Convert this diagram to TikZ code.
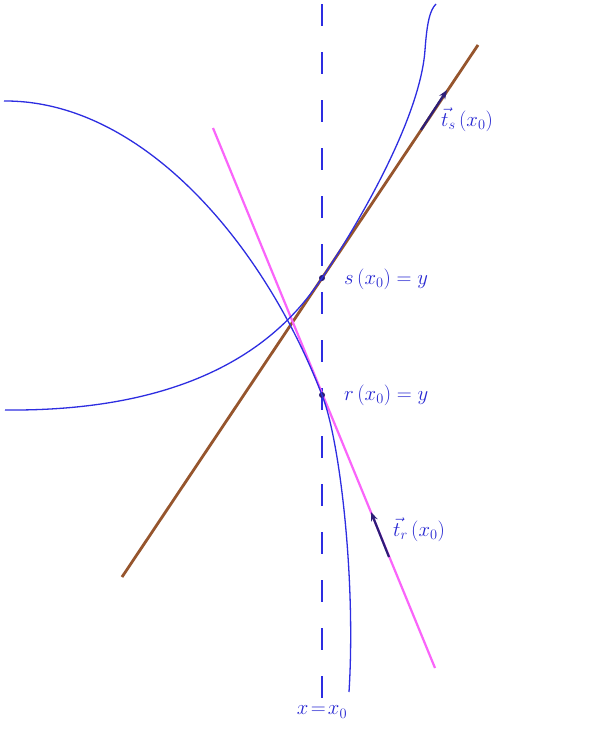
\documentclass[tikz,border=0pt]{standalone}
\usetikzlibrary{arrows.meta}
\definecolor{penblue}{RGB}{40,40,210}
\definecolor{curveblue}{RGB}{45,45,225}
\definecolor{brownline}{RGB}{150,85,45}
\definecolor{pinkline}{RGB}{250,100,250}
\definecolor{arrowdark}{RGB}{45,30,120}
\begin{document}
\begin{tikzpicture}[x=1pt,y=-1pt,
  lbl/.style={text=penblue,font=\fontsize{21}{25}\selectfont,anchor=west,inner sep=1pt},
  curve/.style={draw=curveblue,line width=1.3pt},
  dotnode/.style={circle,fill=arrowdark,inner sep=0pt,minimum size=6pt},
  vecarrow/.style={draw=arrowdark,line width=2.2pt,-{Stealth[length=9pt,width=7pt]}}]
\useasboundingbox (0,0) rectangle (610,747);
\fill[white] (0,0) rectangle (610,747);
% dashed vertical line x = x0
\coordinate (d1) at (322,4);
\coordinate (d2) at (322,700);
\draw[curveblue,line width=1.3pt,dash pattern=on 22pt off 26pt] (d1) -- (d2);
% tangent lines
\coordinate (b1) at (122,577);
\coordinate (b2) at (478,45);
\draw[brownline,line width=2.8pt] (b1) -- (b2);
\coordinate (m1) at (213,128);
\coordinate (m2) at (435,668);
\draw[pinkline,line width=2.2pt] (m1) -- (m2);
% points
\node[dotnode] (s0) at (322,278) {};
\node[dotnode] (r0) at (322,395) {};
% curve s
\coordinate (sa) at (5,410);
\coordinate (sb) at (425,50);
\coordinate (sc) at (436,4);
\draw[curve] (sa) .. controls (220,412) and (292,322) .. (s0.center)
  .. controls (355,229) and (420,120) .. (sb)
  .. controls (427,22) and (430,10) .. (sc);
% curve r
\coordinate (ra) at (4,101);
\coordinate (rb) at (349,692);
\draw[curve] (ra) .. controls (140,100) and (262,240) .. (r0.center)
  .. controls (340,440) and (356,580) .. (rb);
% tangent vectors
\coordinate (ts1) at (421,130);
\coordinate (ts2) at (447,90);
\draw[vecarrow] (ts1) -- (ts2);
\coordinate (tr1) at (389,557);
\coordinate (tr2) at (371,512);
\draw[vecarrow] (tr1) -- (tr2);
% labels
\node[lbl] (lts) at (440,120) {$\vec{t}_{s}\,(x_0)$};
\node[lbl] (ls) at (343,279) {$s\,(x_0)=y$};
\node[lbl] (lr) at (343,395) {$r\,(x_0)=y$};
\node[lbl] (ltr) at (392,530) {$\vec{t}_{r}\,(x_0)$};
\node[text=penblue,font=\fontsize{20}{24}\selectfont] (lx) at (322,712) {$x\!=\!x_0$};
\end{tikzpicture}
\end{document}
